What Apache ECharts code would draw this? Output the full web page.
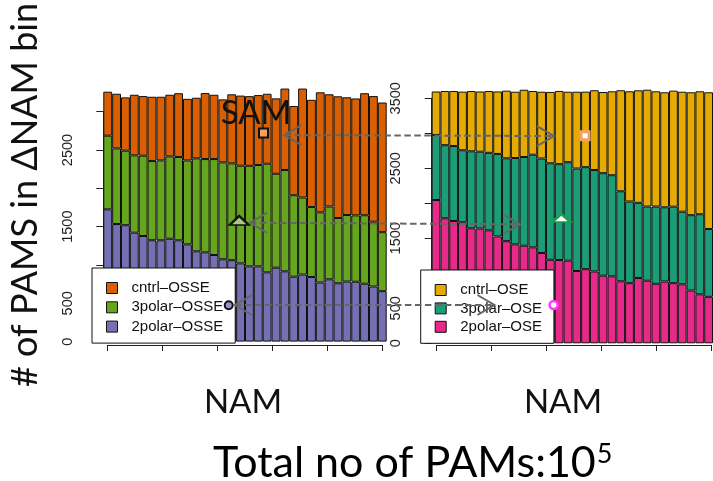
<!DOCTYPE html>
<html><head><meta charset="utf-8">
<script src="https://cdn.jsdelivr.net/npm/echarts@6/dist/echarts.min.js"></script>
<style>html,body{margin:0;padding:0;background:#fff;}#c{width:713px;height:481px;}</style>
</head><body><div id="c"></div>
<script>
// NAM bins (32 per panel)
const bins = ['1','2','3','4','5','6','7','8','9','10','11','12','13','14','15','16',
              '17','18','19','20','21','22','23','24','25','26','27','28','29','30','31','32'];

// OSSE panel: counts per bin, stacked bottom to top
const osse2polar = [1726,1534,1519,1421,1378,1323,1322,1342,1322,1269,1178,1165,1130,1074,1062,1021,
                    982,982,904,964,917,847,875,843,771,813,761,784,781,755,719,658];
const osse3polar = [961,987,972,1009,1048,1033,1043,1075,1087,1095,1213,1217,1252,1265,1264,1274,
                    1312,1322,1417,1226,1322,1063,1005,913,916,950,852,868,866,894,845,770];
const osseCntrl  = [574,713,696,791,778,839,830,804,832,804,791,861,839,822,901,915,
                    909,913,913,984,1063,1164,1422,1399,1566,1464,1588,1536,1526,1592,1640,1692];

// OSE panel
const ose2polar = [2047,1786,1747,1729,1643,1640,1614,1526,1459,1414,1394,1371,1290,1193,1190,1180,
                   1033,1059,1026,966,957,886,859,933,894,850,883,859,843,754,700,664];
const ose3polar = [929,1044,1071,1029,1100,1097,1107,1179,1184,1233,1267,1323,1350,1379,1369,1407,
                   1464,1457,1450,1464,1444,1286,1167,1074,1060,1104,1060,1093,1037,1076,1144,969];
const oseCntrl  = [621,774,786,837,861,860,883,893,966,947,961,910,954,1019,1046,1007,
                   1097,1079,1139,1160,1199,1443,1574,1607,1669,1646,1643,1657,1714,1756,1756,1953];

// y tick labels that are printed
const leftTickLabels  = ['0','500','1500','2500'];
const rightTickLabels = ['0','500','1500','2500','3500'];

// reference points [bin position, count]
const osseSquare = [18.09, 2721], osseTriangle = [15.35, 1580], osseCircle = [14.16, 474];
const oseSquare  = [17.45, 2964], oseTriangle  = [14.75, 1790], oseCircle  = [13.87, 547];

// dashed double arrows: [OSSE end, OSE end]
const arrows = [
  [[20.44, 2695], [13.90, 2961]],
  [[16.57, 1551], [10.03, 1700]],
  [[14.86, 477],  [7.14, 547]]
];

const LAB = 'Liberation Sans, Arial, sans-serif';
const TITLE = 'Lato, "Open Sans", sans-serif';

const chart = echarts.init(document.getElementById('c'), null, {renderer: 'canvas'});

function barSeries(name, data, color, side) {
  return {
    name, type: 'bar', data, stack: side,
    xAxisIndex: side === 'L' ? 0 : 1, yAxisIndex: side === 'L' ? 0 : 1,
    barCategoryGap: '0%', clip: false,
    itemStyle: {color, borderColor: '#111', borderWidth: 1},
    emphasis: {disabled: true}, animation: false
  };
}
function point(data, sym, size, fill, stroke, lw, side) {
  return {
    type: 'scatter', data: [data], symbol: sym, symbolSize: size,
    xAxisIndex: side === 'L' ? 2 : 3, yAxisIndex: side === 'L' ? 0 : 1,
    itemStyle: {color: fill, borderColor: stroke, borderWidth: lw, opacity: 1},
    z: 20, clip: false, animation: false, silent: true
  };
}
function yAxis(grid, max, offset, labels) {
  return {
    type: 'value', gridIndex: grid, min: 0, max, interval: 500, offset,
    axisLine: {show: true, lineStyle: {color: '#222', width: 1}},
    axisTick: {show: true, length: 7, lineStyle: {color: '#222'}},
    splitLine: {show: false},
    axisLabel: {
      rotate: 90, margin: 17, fontFamily: LAB, fontSize: 14.5, color: '#222',
      formatter: v => labels.indexOf(String(v)) >= 0 ? String(v) : ''
    }
  };
}
function hiddenValueX(grid, max) {
  return {type: 'value', gridIndex: grid, min: 0, max, show: false};
}
function tickX(grid) {
  return {
    type: 'value', gridIndex: grid, min: 0, max: 5, interval: 1, position: 'bottom',
    axisLine: {show: true, lineStyle: {color: '#222', width: 1}},
    axisTick: {show: true, length: 6, lineStyle: {color: '#222'}},
    axisLabel: {show: false}, splitLine: {show: false}
  };
}
function legend(left, top, names, gap) {
  return {
    orient: 'vertical', left, top, data: names,
    backgroundColor: '#fff', borderColor: '#111', borderWidth: 1, borderRadius: 0,
    padding: [12.5, 12, 9, 14], itemWidth: 11, itemHeight: 11, itemGap: gap,
    icon: 'rect', selectedMode: false,
    itemStyle: {borderColor: '#111', borderWidth: 1},
    textStyle: {fontFamily: LAB, fontSize: 15, color: '#111', padding: [0, 0, 0, 9]}
  };
}

const option = {
  backgroundColor: '#fff',
  animation: false,
  grid: [
    {left: 103.3, top: 111.7, width: 283.4, height: 229.9},
    {left: 431.7, top: 98.3, width: 283.8, height: 245},
    {left: 107.3, top: 344, width: 275, height: 1},
    {left: 436.7, top: 344, width: 275, height: 1}
  ],
  xAxis: [
    {type: 'category', gridIndex: 0, data: bins, show: false},
    {type: 'category', gridIndex: 1, data: bins, show: false},
    hiddenValueX(0, 32), hiddenValueX(1, 32),
    tickX(2), tickX(3)
  ],
  yAxis: [
    yAxis(0, 3000, 11.3, leftTickLabels),
    yAxis(1, 3500, 11.7, rightTickLabels),
    {type: 'value', gridIndex: 2, show: false},
    {type: 'value', gridIndex: 3, show: false}
  ],
  legend: [
    legend(92, 268, ['cntrl–OSSE', '3polar–OSSE', '2polar–OSSE'], 4.3),
    legend(420.7, 270, ['cntrl–OSE', '3polar–OSE', '2polar–OSE'], 3.4)
  ],
  series: [
    barSeries('2polar–OSSE', osse2polar, '#7570B3', 'L'),
    barSeries('3polar–OSSE', osse3polar, '#66A61E', 'L'),
    barSeries('cntrl–OSSE', osseCntrl, '#D95F02', 'L'),
    barSeries('2polar–OSE', ose2polar, '#E7298A', 'R'),
    barSeries('3polar–OSE', ose3polar, '#1B9E77', 'R'),
    barSeries('cntrl–OSE', oseCntrl, '#E6AB02', 'R'),
    point(osseSquare, 'rect', 9, '#F4A261', '#111', 2, 'L'),
    point(osseTriangle, 'triangle', [19, 9], '#A9C77E', '#111', 2.2, 'L'),
    point(osseCircle, 'circle', 8, '#9C8FCB', '#111', 2, 'L'),
    point(oseSquare, 'rect', 8, '#fff', '#F4A261', 3, 'R'),
    point(oseTriangle, 'triangle', [18, 8], '#fff', '#18A04E', 2.5, 'R'),
    point(oseCircle, 'circle', 8, '#fff', '#FF3BFF', 2.5, 'R')
  ]
};
chart.setOption(option);

// annotation text and arrows
const graphics = [
  {type: 'text', x: 25, y: 195, rotation: Math.PI / 2, z: 30,
   style: {text: '# of PAMS in ΔNAM bin', font: '36px ' + TITLE, fill: '#111', textAlign: 'center', textVerticalAlign: 'middle'}},
  {type: 'text', x: 243, y: 402, z: 30,
   style: {text: 'NAM', font: '33px ' + TITLE, fill: '#111', textAlign: 'center', textVerticalAlign: 'middle'}},
  {type: 'text', x: 563, y: 402, z: 30,
   style: {text: 'NAM', font: '33px ' + TITLE, fill: '#111', textAlign: 'center', textVerticalAlign: 'middle'}},
  {type: 'text', x: 256, y: 113, z: 30,
   style: {text: 'SAM', font: '33px ' + TITLE, fill: '#111', textAlign: 'center', textVerticalAlign: 'middle'}},
  {type: 'text', x: 213, y: 463, z: 30,
   style: {
     text: '{a|Total no of PAMs:10}{s|5}', textAlign: 'left', textVerticalAlign: 'middle',
     rich: {
       a: {font: '43px ' + TITLE, color: '#111'},
       s: {font: '27px ' + TITLE, color: '#111', verticalAlign: 'top', padding: [0, 0, 18, 1]}
     }
   }}
];

const AR = {stroke: '#666', lineWidth: 2};
arrows.forEach(([l, r]) => {
  const p = chart.convertToPixel({xAxisIndex: 2, yAxisIndex: 0}, l);
  const q = chart.convertToPixel({xAxisIndex: 3, yAxisIndex: 1}, r);
  graphics.push({type: 'line', z: 25, shape: {x1: p[0], y1: p[1], x2: q[0], y2: q[1]},
                 style: Object.assign({lineDash: [6.5, 3.5]}, AR)});
  graphics.push({type: 'polyline', z: 25,
                 shape: {points: [[p[0] + 17, p[1] - 10], [p[0], p[1]], [p[0] + 17, p[1] + 10]]}, style: AR});
  graphics.push({type: 'polyline', z: 25,
                 shape: {points: [[q[0] - 17, q[1] - 10], [q[0], q[1]], [q[0] - 17, q[1] + 10]]}, style: AR});
});
chart.setOption({graphic: graphics});
</script>
</body></html>
